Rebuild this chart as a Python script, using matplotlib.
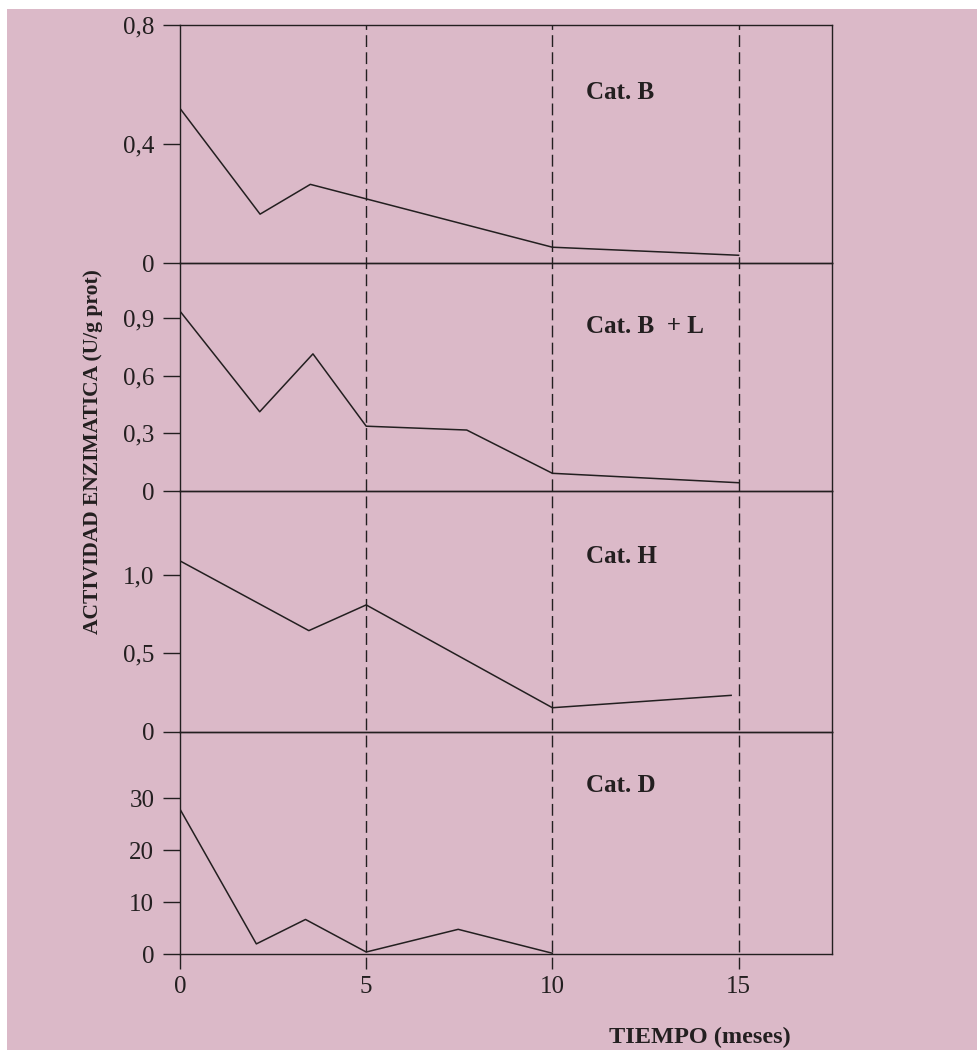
import matplotlib
matplotlib.use("Agg")
import matplotlib.pyplot as plt
from matplotlib.patches import Rectangle
from matplotlib.lines import Line2D
from matplotlib.transforms import blended_transform_factory

plt.rcParams['font.family'] = ['Liberation Serif', 'DejaVu Serif']

# data
b_x = [0, 2.15, 3.5, 10, 15]
b_y = [0.52, 0.165, 0.265, 0.054, 0.027]
bl_x = [0, 2.14, 3.57, 5, 7.7, 10, 15]
bl_y = [0.935, 0.412, 0.713, 0.337, 0.317, 0.092, 0.043]
h_x = [0, 3.46, 5, 10, 14.8]
h_y = [1.09, 0.645, 0.809, 0.153, 0.232]
d_x = [0, 2.05, 3.37, 5, 7.47, 10]
d_y = [27.9, 2.0, 6.7, 0.44, 4.8, 0.2]

labels = ["Cat. B", "Cat. B  + L", "Cat. H", "Cat. D"]
yticks = [[0, 0.4, 0.8], [0, 0.3, 0.6, 0.9], [0, 0.5, 1.0], [0, 10, 20, 30]]
ytick_labels = [["0", "0,4", "0,8"], ["0", "0,3", "0,6", "0,9"],
                ["0", "0,5", "1,0"], ["0", "10", "20", "30"]]
ytops = [0.8, 1.184, 1.536, 42.8]
label_y = [0.575, 0.857, 1.12, 32.4]
xticks = [0, 5, 10, 15]
dash_x = [5, 10, 15]

pink = "#dbb9c8"
ink = "#231f20"

fig = plt.figure(figsize=(9.78, 10.5), dpi=100)
fig.patch.set_facecolor("white")
fig.add_artist(Rectangle((7 / 978, 0), 1, 1 - 9 / 1050, transform=fig.transFigure,
                         facecolor=pink, edgecolor="none", zorder=-5))

gs = fig.add_gridspec(4, 1, height_ratios=[238.3, 227.7, 240.7, 222.6], hspace=0,
                      left=180 / 978, right=831.7 / 978, top=1 - 25 / 1050,
                      bottom=1 - 954.3 / 1050)
axes = [fig.add_subplot(gs[i]) for i in range(4)]

series = [(b_x, b_y), (bl_x, bl_y), (h_x, h_y), (d_x, d_y)]
for i, ax in enumerate(axes):
    xs, ys = series[i]
    ax.set_facecolor("none")
    ax.plot(xs, ys, color=ink, lw=1.1)
    ax.set_xlim(0, 17.5)
    ax.set_ylim(0, ytops[i])
    ax.set_yticks(yticks[i])
    ax.set_yticklabels(ytick_labels[i])
    ax.tick_params(axis='y', direction='out', length=12.5, width=1.0, color=ink,
                   labelsize=18, pad=6, labelcolor=ink)
    for s in ax.spines.values():
        s.set_color(ink)
        s.set_linewidth(1.0)
    ax.text(10.9, label_y[i], labels[i], fontsize=18, fontweight='bold',
            color=ink, ha='left', va='center')
    if i < 3:
        ax.set_xticks([])

ax4 = axes[3]
ax4.set_xticks(xticks)
ax4.set_xticklabels([str(v) for v in xticks])
ax4.tick_params(axis='x', direction='out', length=10.8, width=1.0, color=ink,
                labelsize=18, pad=5, labelcolor=ink)
for t in ax4.xaxis.get_major_ticks()[1:]:
    t.tick1line.set_visible(False)

# dashed vertical guide lines across all panels
trans = blended_transform_factory(ax4.transData, fig.transFigure)
for xv in dash_x:
    fig.add_artist(Line2D([xv, xv], [1 - 969 / 1050, 1 - 25 / 1050], transform=trans,
                          color=ink, lw=1.0, linestyle=(0, (8.5, 3.8))))

fig.text(93 / 978, 1 - 452 / 1050, "ACTIVIDAD ENZIMATICA (U/g prot)", rotation=90,
         fontsize=15.5, fontweight='bold', color=ink, ha='center', va='center')
fig.text(700 / 978, 1 - 1037 / 1050, "TIEMPO (meses)", fontsize=17.5,
         fontweight='bold', color=ink, ha='center', va='center')

fig.savefig("out.png", dpi=100)
